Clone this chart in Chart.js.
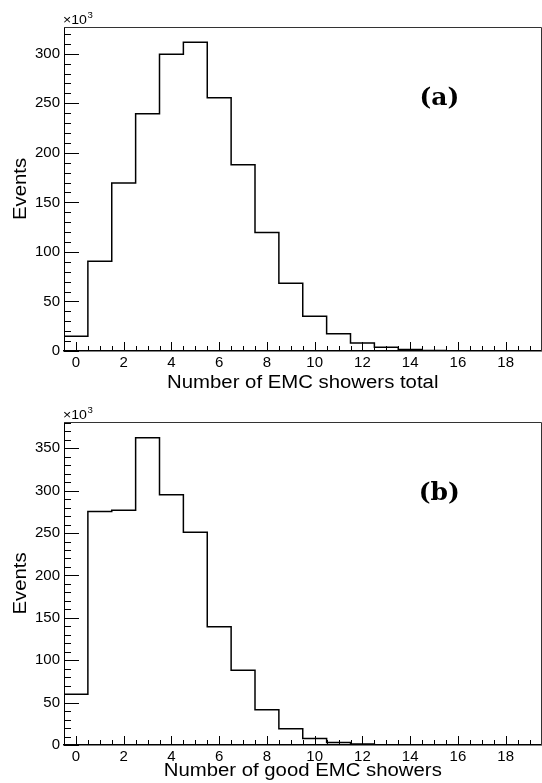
<!DOCTYPE html>
<html>
<head>
<meta charset="utf-8">
<script src="https://cdn.jsdelivr.net/npm/chart.js@4/dist/chart.umd.min.js"></script>
<style>
  html, body { margin: 0; padding: 0; background: #fff; }
  #wrap { position: relative; width: 542px; height: 783px; overflow: hidden; }
  .panel { position: absolute; left: 0; width: 542px; }
</style>
</head>
<body>
<div id="wrap">
  <div class="panel" style="top:0;height:391px"><canvas id="chartA"></canvas></div>
  <div class="panel" style="top:391px;height:392px"><canvas id="chartB"></canvas></div>
</div>
<script>
// ---------------- data (events in units of 10^3) ----------------
const binCenters = [0, 1, 2, 3, 4, 5, 6, 7, 8, 9, 10, 11, 12, 13, 14, 15, 16, 17, 18, 19];
const totalShowers = [15, 90.5, 169.5, 239.5, 299.5, 311.5, 255.5, 188, 119.5, 68.5, 35, 17.5, 8, 3.8, 1.5, 0.6, 0.2, 0.1, 0, 0];
const goodShowers  = [60, 275.5, 276.8, 362.5, 295.3, 251, 139.5, 88.2, 41.5, 19.2, 7.8, 3, 1.2, 0.4, 0.1, 0, 0, 0, 0, 0];
const xTickValues = [0, 2, 4, 6, 8, 10, 12, 14, 16, 18];
const xTickLabels = ['0', '2', '4', '6', '8', '10', '12', '14', '16', '18'];
const yTickValuesA = [0, 50, 100, 150, 200, 250, 300];
const yTickLabelsA = ['0', '50', '100', '150', '200', '250', '300'];
const yTickValuesB = [0, 50, 100, 150, 200, 250, 300, 350];
const yTickLabelsB = ['0', '50', '100', '150', '200', '250', '300', '350'];
const yMaxA = 327;
const yMaxB = 381;
const xTitleA = 'Number of EMC showers total';
const xTitleB = 'Number of good EMC showers';
const yTitle = 'Events';
const exponentText = ['\u00d710', '3'];
const tagA = '(a)';
const tagB = '(b)';

const SANS = '"Liberation Sans", Arial, Helvetica, sans-serif';
const STRETCH = 1.13;

function drawStretched(ctx, text, x, y, align) {
  ctx.save();
  ctx.translate(x, y);
  ctx.scale(STRETCH, 1);
  ctx.textAlign = align;
  ctx.fillText(text, 0, 0);
  ctx.restore();
}

const rootStyle = {
  id: 'rootStyle',
  afterDraw(chart, args, o) {
    const { ctx, chartArea: ca, scales: { x, y } } = chart;
    ctx.save();
    // frame (top and right)
    ctx.strokeStyle = '#333';
    ctx.lineWidth = 1;
    ctx.beginPath();
    const rx = Math.floor(ca.right) + 0.5;
    const ty = Math.floor(ca.top) + 0.5;
    ctx.moveTo(ca.left, ty);
    ctx.lineTo(rx, ty);
    ctx.lineTo(rx, ca.bottom);
    ctx.stroke();
    // ticks
    ctx.strokeStyle = '#000';
    ctx.beginPath();
    for (let k = 0; ; k++) {
      const v = x.min + 0.5 * k;
      if (v > x.max + 1e-9) break;
      const px = Math.round(x.getPixelForValue(v)) + 0.5;
      const major = o.xMajor.includes(v);
      ctx.moveTo(px, ca.bottom);
      ctx.lineTo(px, ca.bottom - (major ? 9 : 5));
    }
    for (let v = 0; v <= y.max; v += 10) {
      const py = Math.round(y.getPixelForValue(v)) + 0.5;
      const major = v % 50 === 0;
      ctx.moveTo(ca.left, py);
      ctx.lineTo(ca.left + (major ? 15 : 7), py);
    }
    ctx.stroke();

    ctx.fillStyle = '#000';
    ctx.textBaseline = 'alphabetic';
    // x title
    ctx.font = '18px ' + SANS;
    drawStretched(ctx, o.xTitle, (ca.left + ca.right) / 2, o.xTitleBaseline, 'center');
    // y title
    ctx.save();
    ctx.translate(o.yTitleBaseline, (ca.top + ca.bottom) / 2);
    ctx.rotate(-Math.PI / 2);
    ctx.scale(STRETCH, 1);
    ctx.textAlign = 'center';
    ctx.fillText(yTitle, 0, 0);
    ctx.restore();
    // x10^3
    ctx.font = '12.5px ' + SANS;
    ctx.textAlign = 'left';
    drawStretched(ctx, exponentText[0], ca.left - 1, ca.top - 3, 'left');
    const w = ctx.measureText(exponentText[0]).width * STRETCH;
    ctx.font = '8.5px ' + SANS;
    drawStretched(ctx, exponentText[1], ca.left - 1 + w + 0.5, ca.top - 9.5, 'left');
    // panel tag
    ctx.font = 'bold 25px "DejaVu Serif", "Liberation Serif", serif';
    ctx.textAlign = 'center';
    ctx.textBaseline = 'middle';
    ctx.fillText(o.tag, ca.left + 0.786 * (ca.right - ca.left), ca.top + 0.222 * (ca.bottom - ca.top));
    ctx.restore();
  }
};

function histPoints(values) {
  const pts = values.map((v, i) => ({ x: binCenters[i] - 0.5, y: v }));
  pts.push({ x: binCenters[binCenters.length - 1] + 0.5, y: values[values.length - 1] });
  return pts;
}

function makeChart(id, values, yTickValues, yTickLabels, yMax, xTitle, tag, geo) {
  return new Chart(document.getElementById(id), {
    type: 'line',
    data: {
      datasets: [{
        data: histPoints(values),
        stepped: true,
        borderColor: '#000',
        borderWidth: 1.5,
        pointRadius: 0,
        fill: false,
        tension: 0
      }]
    },
    options: {
      responsive: true,
      maintainAspectRatio: false,
      animation: false,
      devicePixelRatio: 1,
      events: [],
      layout: { padding: { top: geo.top, right: 0.5, left: 0, bottom: 0 } },
      plugins: {
        legend: { display: false },
        tooltip: { enabled: false },
        rootStyle: { xMajor: xTickValues, xTitle: xTitle, tag: tag, xTitleBaseline: geo.xTitleBaseline, yTitleBaseline: 26 }
      },
      scales: {
        x: {
          type: 'linear',
          min: binCenters[0] - 0.5,
          max: binCenters[binCenters.length - 1] + 0.5,
          afterBuildTicks: s => { s.ticks = xTickValues.map(v => ({ value: v })); },
          afterFit: s => { s.height = geo.xAxisHeight; },
          grid: { display: false, drawTicks: false },
          border: { display: true, color: '#000', width: 1.5 },
          ticks: {
            autoSkip: false,
            maxRotation: 0,
            padding: geo.xTickPad,
            color: '#000',
            font: { family: SANS, size: 15 },
            callback: (v) => { const i = xTickValues.indexOf(v); return i >= 0 ? xTickLabels[i] : ''; }
          }
        },
        y: {
          type: 'linear',
          min: 0,
          max: yMax,
          afterBuildTicks: s => { s.ticks = yTickValues.map(v => ({ value: v })); },
          afterFit: s => { s.width = 64; },
          grid: { display: false, drawTicks: false },
          border: { display: true, color: '#000', width: 1 },
          ticks: {
            autoSkip: false,
            padding: 4,
            color: '#000',
            font: { family: SANS, size: 15 },
            callback: (v) => { const i = yTickValues.indexOf(v); return i >= 0 ? yTickLabels[i] : ''; }
          }
        }
      }
    },
    plugins: [rootStyle]
  });
}

makeChart('chartA', totalShowers, yTickValuesA, yTickLabelsA, yMaxA, xTitleA, tagA,
  { top: 27, xAxisHeight: 40, xTickPad: 3, xTitleBaseline: 388 });
makeChart('chartB', goodShowers, yTickValuesB, yTickLabelsB, yMaxB, xTitleB, tagB,
  { top: 31, xAxisHeight: 38, xTickPad: 3, xTitleBaseline: 384.5 });
</script>
</body>
</html>
